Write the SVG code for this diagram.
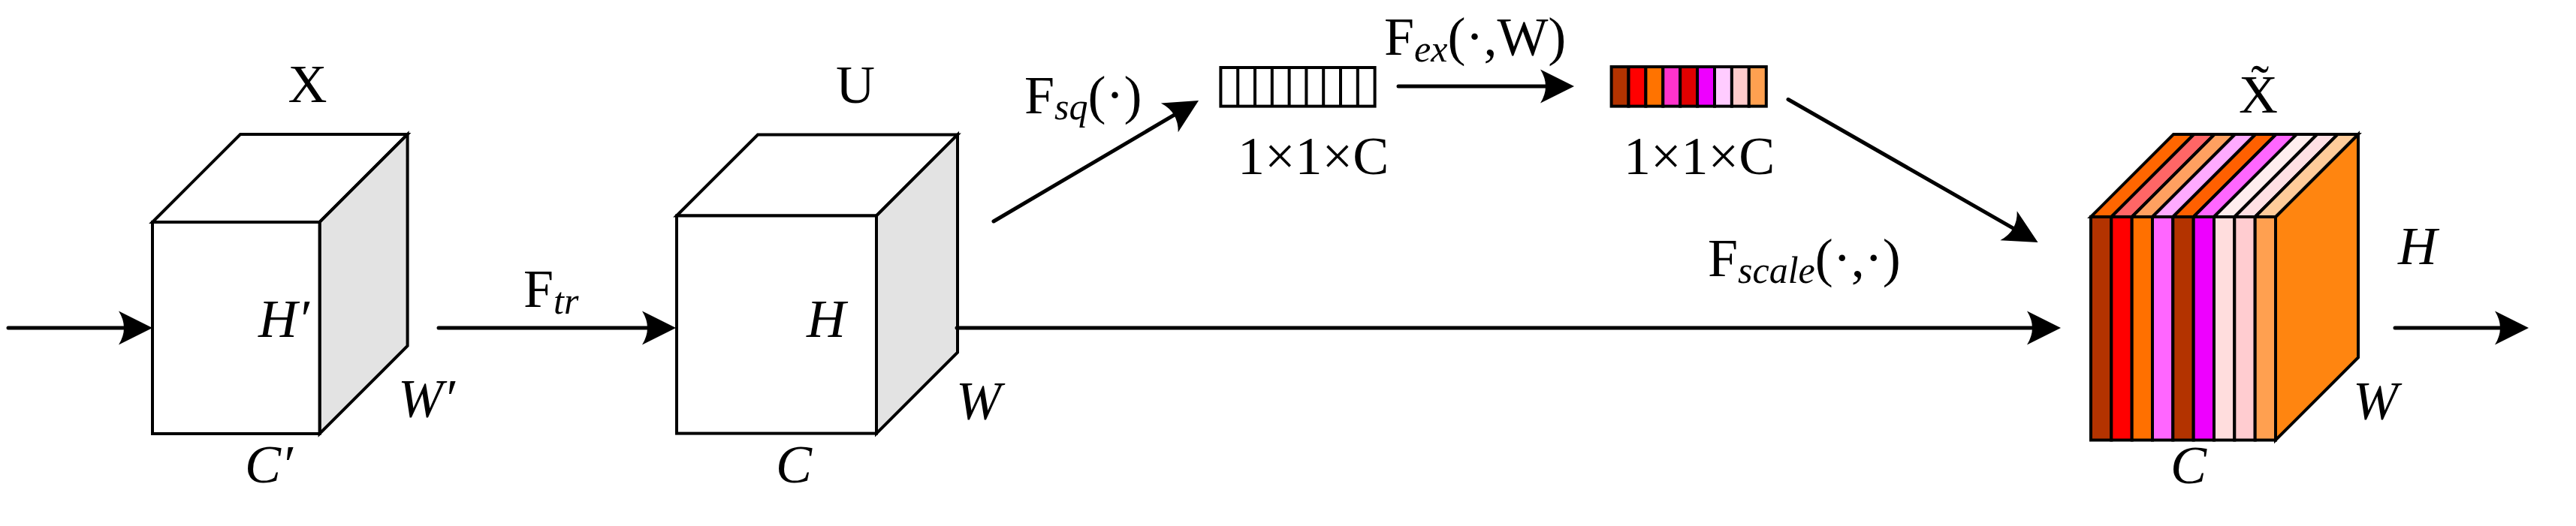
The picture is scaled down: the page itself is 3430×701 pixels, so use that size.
<svg xmlns="http://www.w3.org/2000/svg" width="3430" height="701" viewBox="0 0 3430 701">
<style>
text{font-family:"Liberation Serif","Times New Roman",serif;fill:#000}
.m{font-size:72px}
.i{font-size:72px;font-style:italic}
.s{font-size:50px;font-style:italic}
.c{text-anchor:middle}
.e{stroke:#000;stroke-width:4;stroke-linejoin:miter}
.ln{stroke:#000;stroke-width:5;stroke-linecap:round;fill:none}
</style>
<defs>
<marker id="ah" markerUnits="userSpaceOnUse" viewBox="-48 -25 52 50" markerWidth="52" markerHeight="50" refX="-20" refY="0" orient="auto" overflow="visible">
<path d="M0,0 L-45,-22.5 Q-31,0 -45,22.5 Z" fill="#000"/>
</marker>
</defs>
<rect width="3430" height="701" fill="#fff"/>

<g id="node-X">
<polygon class="e" fill="#fff" points="203,296 320,179 542.6,179 425.6,296"/>
<polygon class="e" fill="#e3e3e3" points="425.6,296 542.6,179 542.6,461 425.6,578"/>
<rect class="e" fill="#fff" x="203" y="296" width="222.6" height="282"/>
<text class="m c" x="409.5" y="136">X</text>
<text class="i" x="344" y="449">H′</text>
<text class="i" x="530" y="555">W′</text>
<text class="i" x="326" y="643">C′</text>
</g>

<g id="node-U">
<polygon class="e" fill="#fff" points="901,287.5 1009,179.5 1275,179.5 1167,287.5"/>
<polygon class="e" fill="#e3e3e3" points="1167,287.5 1275,179.5 1275,469.6 1167,577.6"/>
<rect class="e" fill="#fff" x="901" y="287.5" width="266" height="290.1"/>
<text class="m c" x="1139" y="137">U</text>
<text class="i" x="1074" y="449">H</text>
<text class="i" x="1273" y="558">W</text>
<text class="i" x="1033" y="643">C</text>
</g>

<g id="node-sq">
<rect class="e" fill="#fff" x="1625.4" y="90" width="205.2" height="51.6"/>
<path class="e" fill="none" d="M1648.2,90V141.6M1671,90V141.6M1693.8,90V141.6M1716.6,90V141.6M1739.4,90V141.6M1762.2,90V141.6M1785,90V141.6M1807.8,90V141.6"/>
<text class="m" x="1648" y="231.5">1×1×C</text>
</g>

<g id="node-ex">
<g class="e">
<rect x="2145.6" y="89" width="22.9" height="52.6" fill="#b33300"/>
<rect x="2168.5" y="89" width="22.9" height="52.6" fill="#ff0000"/>
<rect x="2191.4" y="89" width="22.9" height="52.6" fill="#ff7300"/>
<rect x="2214.3" y="89" width="22.9" height="52.6" fill="#ff33cc"/>
<rect x="2237.2" y="89" width="22.9" height="52.6" fill="#e00000"/>
<rect x="2260.1" y="89" width="22.9" height="52.6" fill="#ee00ff"/>
<rect x="2283" y="89" width="22.9" height="52.6" fill="#ffccff"/>
<rect x="2305.9" y="89" width="22.9" height="52.6" fill="#ffcccc"/>
<rect x="2328.8" y="89" width="23" height="52.6" fill="#ffa050"/>
</g>
<text class="m" x="2162" y="231.5">1×1×C</text>
</g>

<g id="node-Xt">
<g class="e">
<polygon fill="#ff8510" points="3030,289 3140,179 3140,476.5 3030,586.5"/>
<polygon fill="#ff6600" points="2784,289 2894,179 2921.3,179 2811.3,289"/>
<polygon fill="#ff6666" points="2811.3,289 2921.3,179 2948.7,179 2838.7,289"/>
<polygon fill="#ffa060" points="2838.7,289 2948.7,179 2976,179 2866,289"/>
<polygon fill="#ffaaff" points="2866,289 2976,179 3003.3,179 2893.3,289"/>
<polygon fill="#ff6000" points="2893.3,289 3003.3,179 3030.7,179 2920.7,289"/>
<polygon fill="#ff66ff" points="2920.7,289 3030.7,179 3058,179 2948,289"/>
<polygon fill="#ffeeee" points="2948,289 3058,179 3085.3,179 2975.3,289"/>
<polygon fill="#ffe0e4" points="2975.3,289 3085.3,179 3112.7,179 3002.7,289"/>
<polygon fill="#ffcc9a" points="3002.7,289 3112.7,179 3140,179 3030,289"/>
<rect x="2784" y="289" width="27.3" height="297.5" fill="#b33300"/>
<rect x="2811.3" y="289" width="27.4" height="297.5" fill="#ff0000"/>
<rect x="2838.7" y="289" width="27.3" height="297.5" fill="#ff7000"/>
<rect x="2866" y="289" width="27.3" height="297.5" fill="#ff66ff"/>
<rect x="2893.3" y="289" width="27.4" height="297.5" fill="#b33300"/>
<rect x="2920.7" y="289" width="27.3" height="297.5" fill="#ee00ff"/>
<rect x="2948" y="289" width="27.3" height="297.5" fill="#ffdddd"/>
<rect x="2975.3" y="289" width="27.4" height="297.5" fill="#ffccd0"/>
<rect x="3002.7" y="289" width="27.3" height="297.5" fill="#ffa050"/>
</g>
<text class="m c" x="3007" y="150">X̃</text>
<text class="i" x="3193" y="352">H</text>
<text class="i" x="3133" y="558">W</text>
<text class="i" x="2890" y="644">C</text>
</g>

<g id="connectors">
<line class="ln" x1="11" y1="437" x2="183" y2="437" marker-end="url(#ah)"/>
<line class="ln" x1="584" y1="437" x2="880" y2="437" marker-end="url(#ah)"/>
<line class="ln" x1="1323" y1="295" x2="1578.8" y2="144.2" marker-end="url(#ah)"/>
<line class="ln" x1="1862" y1="115" x2="2076" y2="115" marker-end="url(#ah)"/>
<line class="ln" x1="2381" y1="132.5" x2="2696.2" y2="313.1" marker-end="url(#ah)"/>
<line class="ln" x1="1274" y1="437" x2="2724" y2="437" marker-end="url(#ah)"/>
<line class="ln" x1="3189" y1="437" x2="3347" y2="437" marker-end="url(#ah)"/>
<text class="m" x="697" y="409">F<tspan class="s" dy="9">tr</tspan></text>
<text class="m" x="1364" y="151">F<tspan class="s" dy="8">sq</tspan><tspan class="m" dy="-8">(·)</tspan></text>
<text class="m" x="1843" y="73">F<tspan class="s" dy="9">ex</tspan><tspan class="m" dy="-9">(·,W)</tspan></text>
<text class="m" x="2274" y="368">F<tspan class="s" dy="9">scale</tspan><tspan class="m" dy="-9">(·,·)</tspan></text>
</g>
</svg>
